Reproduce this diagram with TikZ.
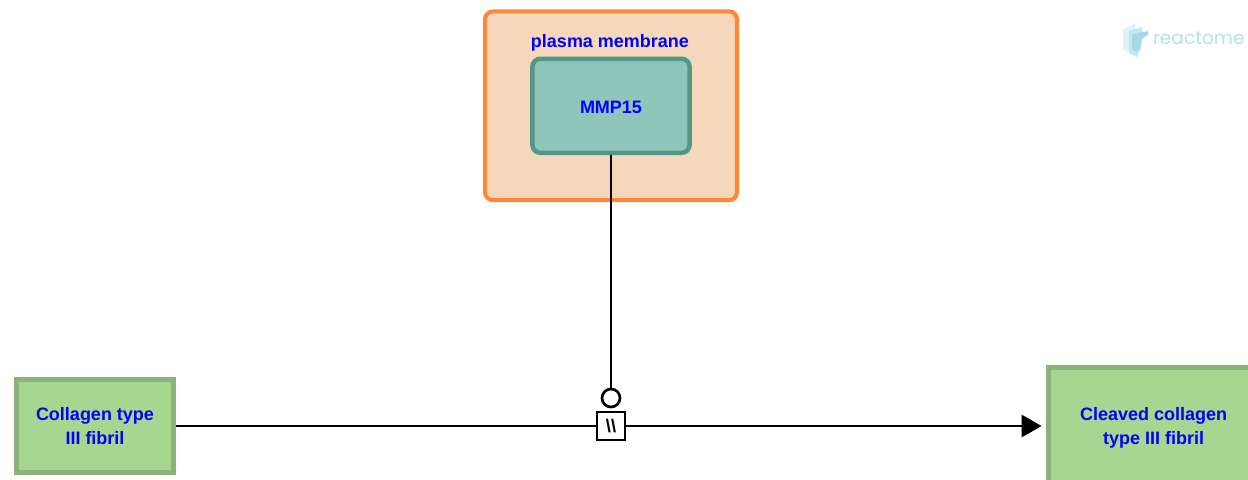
\documentclass[tikz,border=0pt]{standalone}
\usepackage{fontspec}
\setmainfont{Liberation Sans}
\newfontfamily\logofont{Poppins}
\usetikzlibrary{arrows.meta}
\definecolor{entityfill}{HTML}{A6D790}
\definecolor{entityline}{HTML}{8AB27A}
\definecolor{proteinfill}{HTML}{8FC6BA}
\definecolor{proteinline}{HTML}{529787}
\definecolor{compfill}{HTML}{F5D8BB}
\definecolor{compline}{HTML}{FF8737}
\definecolor{logoblue}{HTML}{B4E1EC}
\definecolor{logomark}{HTML}{A3D9E6}
\tikzset{
    label text/.style={text=blue, font=\fontsize{12.8}{17}\selectfont\bfseries, align=center, text height=10.8pt, text depth=0pt},
    entity/.style={draw=entityline, fill=entityfill, line width=3.6pt, label text, text height=26.4pt},
    protein/.style={draw=proteinline, fill=proteinfill, line width=3.2pt, rounded corners=0.2cm, label text},
    compartment/.style={draw=compline, fill=compfill, line width=2.9pt, rounded corners=0.2cm},
    edge line/.style={black, line width=1.9pt},
}
\begin{document}
\begin{tikzpicture}
    \useasboundingbox (0,0) rectangle (31.2,11.975);
    \node[compartment, minimum width=6.3cm, minimum height=4.72cm] (membrane) at (15.275,9.33) {};
    \node[label text] (membranelabel) at (15.25,10.97) {plasma membrane};
    \node[protein, minimum width=3.93cm, minimum height=2.35cm] (mmp) at (15.275,9.33) {MMP15};
    \node[entity, minimum width=3.925cm, minimum height=2.33cm] (collagen) at (2.375,1.325) {Collagen type\\III fibril};
    \node[entity, minimum width=5.25cm, minimum height=2.925cm] (cleaved) at (28.84,1.325) {Cleaved collagen\\type III fibril};
    \node[draw, edge line, fill=white, minimum size=0.7cm, inner sep=0pt, font=\fontsize{13}{13}\selectfont\bfseries] (reaction) at (15.275,1.325) {\textbackslash\textbackslash};
    \node[draw, edge line, circle, fill=white, minimum size=0.45cm, inner sep=0pt] (catalyst) at (15.275,2.025) {};
    \draw[edge line] (collagen) -- (reaction);
    \draw[edge line, -{Triangle[length=0.5cm, width=0.55cm]}, shorten >=0.11cm] (reaction) -- (cleaved);
    \draw[edge line] (mmp) -- (catalyst);
    % logo
    \fill[logomark!35] (28.08,11.25) -- (28.38,11.38) -- (28.38,10.95) -- (28.28,10.65) -- (28.08,10.75) -- cycle;
    \fill[logomark!65] (28.22,11.2) -- (28.55,11.3) -- (28.55,10.85) -- (28.42,10.55) -- (28.22,10.65) -- cycle;
    \fill[logomark] (28.3,11.12) -- (28.71,11.2) -- (28.71,11.12) -- (28.52,10.98) -- (28.5,10.73) -- (28.39,10.68) -- (28.3,10.75) -- cycle;
    \node[text=logoblue, font=\logofont\fontsize{13.2}{13}\selectfont, inner sep=0pt, anchor=base] (logotext) at (29.97,10.85) {reactome};
\end{tikzpicture}
\end{document}
